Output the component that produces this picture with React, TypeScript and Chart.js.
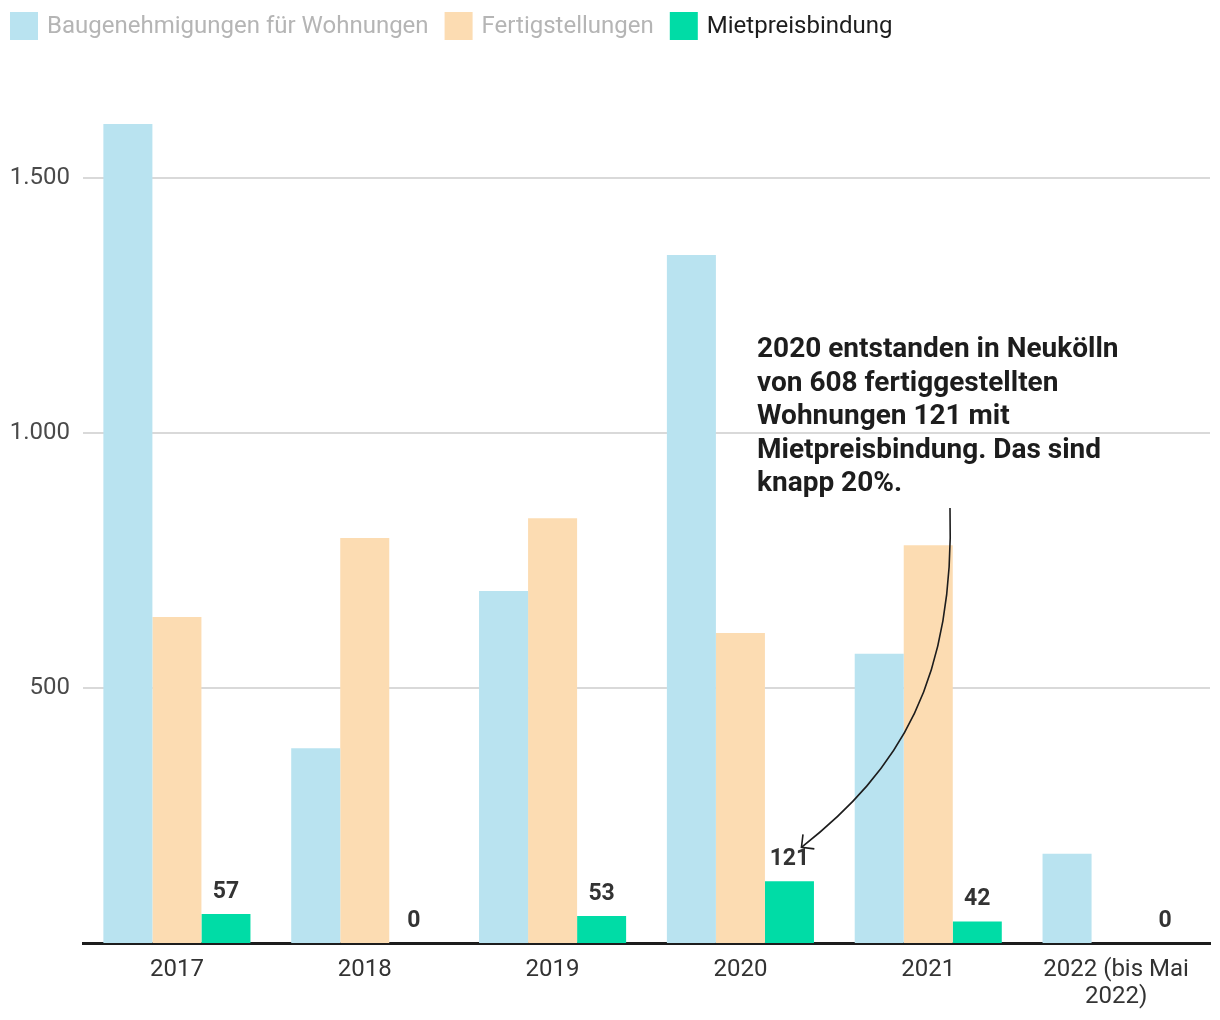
import React, { useEffect, useRef } from "react";
import { Chart, registerables } from "chart.js";

Chart.register(...registerables);

const categories: (string | string[])[] = ["2017", "2018", "2019", "2020", "2021", ["2022 (bis Mai", "2022)"]];
const baugenehmigungen = [1606, 382, 690, 1349, 567, 175];
const fertigstellungen: (number | null)[] = [639, 794, 833, 608, 780, null];
const mietpreisbindung = [57, 0, 53, 121, 42, 0];
const seriesNames = ["Baugenehmigungen für Wohnungen", "Fertigstellungen", "Mietpreisbindung"];
const seriesColors = ["#b9e3f0", "#fcdcb2", "#00dca6"];
const legendTextColors = ["#b5b5b5", "#b5b5b5", "#1d1d1d"];
const yTicks = [500, 1000, 1500];
const yMax = 1700;
const annotationLines = [
  "2020 entstanden in Neukölln",
  "von 608 fertiggestellten",
  "Wohnungen 121 mit",
  "Mietpreisbindung. Das sind",
  "knapp 20%.",
];
const annotatedIndex = 3;

const FONT = "Roboto, 'Noto Sans', sans-serif";

function fmt(v: number): string {
  const s = String(Math.round(v));
  return s.replace(/\B(?=(\d{3})+(?!\d))/g, ".");
}

const legendPlugin = {
  id: "customLegend",
  afterDraw(chart: any) {
    const ctx = chart.ctx;
    ctx.save();
    ctx.font = `24px ${FONT}`;
    ctx.textBaseline = "middle";
    ctx.textAlign = "left";
    let x = 10;
    const y = 12;
    seriesNames.forEach((name, i) => {
      ctx.fillStyle = seriesColors[i];
      ctx.fillRect(x, y, 28, 28);
      ctx.fillStyle = legendTextColors[i];
      ctx.fillText(name, x + 37, y + 15);
      x += 37 + ctx.measureText(name).width + 16;
    });
    ctx.restore();
  },
};

const valueLabelPlugin = {
  id: "valueLabels",
  afterDatasetsDraw(chart: any) {
    const ctx = chart.ctx;
    const meta = chart.getDatasetMeta(2);
    ctx.save();
    ctx.font = `bold 23px ${FONT}`;
    ctx.fillStyle = "#333333";
    ctx.textAlign = "center";
    ctx.textBaseline = "middle";
    meta.data.forEach((el: any, i: number) => {
      const v = mietpreisbindung[i];
      if (v === null || v === undefined) return;
      ctx.fillText(fmt(v), el.x, el.y - 22);
    });
    ctx.restore();
  },
};

const annotationPlugin = {
  id: "annotation",
  afterDraw(chart: any) {
    const ctx = chart.ctx;
    ctx.save();
    ctx.font = `bold 28px ${FONT}`;
    ctx.fillStyle = "#1d1d1d";
    ctx.textAlign = "left";
    ctx.textBaseline = "middle";
    annotationLines.forEach((line, i) => {
      ctx.fillText(line, 757, 350 + i * 33.6);
    });
    const el = chart.getDatasetMeta(2).data[annotatedIndex];
    const tx = el.x + 12;
    const ty = el.y - 34;
    const sx = 950;
    const sy = 508;
    ctx.strokeStyle = "#1d1d1d";
    ctx.lineWidth = 1.6;
    ctx.beginPath();
    ctx.moveTo(sx, sy);
    ctx.bezierCurveTo(955, 680, 900, 770, tx, ty);
    ctx.stroke();
    const ang = Math.atan2(ty - 770, tx - 900);
    const len = 13;
    ctx.beginPath();
    ctx.moveTo(tx - len * Math.cos(ang - Math.PI / 4), ty - len * Math.sin(ang - Math.PI / 4));
    ctx.lineTo(tx, ty);
    ctx.lineTo(tx - len * Math.cos(ang + Math.PI / 4), ty - len * Math.sin(ang + Math.PI / 4));
    ctx.stroke();
    ctx.restore();
  },
};

export default function App() {
  const canvasRef = useRef<HTMLCanvasElement | null>(null);

  useEffect(() => {
    document.body.style.margin = "0";
    const canvas = canvasRef.current;
    if (!canvas) return;
    const chart = new Chart(canvas, {
      type: "bar",
      data: {
        labels: categories,
        datasets: [
          { label: seriesNames[0], data: baugenehmigungen, backgroundColor: seriesColors[0] },
          { label: seriesNames[1], data: fertigstellungen, backgroundColor: seriesColors[1] },
          { label: seriesNames[2], data: mietpreisbindung, backgroundColor: seriesColors[2] },
        ],
      },
      options: {
        responsive: false,
        animation: false,
        devicePixelRatio: 1,
        layout: { padding: { top: 76, right: 10, left: 0, bottom: 0 } },
        datasets: {
          bar: { categoryPercentage: 0.783, barPercentage: 1, borderWidth: 0 },
        },
        plugins: {
          legend: { display: false },
          tooltip: { enabled: false },
          title: { display: false },
        },
        scales: {
          x: {
            z: 1,
            grid: { display: false, drawTicks: false },
            border: { display: true, color: "#1d1d1d", width: 3 },
            ticks: {
              color: "#333333",
              font: { family: FONT, size: 24, lineHeight: 1.125 },
              padding: 13,
              maxRotation: 0,
              autoSkip: false,
            },
            afterFit(scale: any) {
              scale.height = 77;
            },
          },
          y: {
            z: 1,
            min: 0,
            max: yMax,
            afterBuildTicks(scale: any) {
              scale.ticks = yTicks.map((v) => ({ value: v }));
            },
            afterFit(scale: any) {
              scale.width = 83;
            },
            grid: { color: "rgba(0,0,0,0.15)", lineWidth: 2, drawTicks: false },
            border: { display: false },
            ticks: {
              color: "#4a4a4a",
              font: { family: FONT, size: 24 },
              padding: 13,
              callback: (v: any) => fmt(Number(v)),
            },
          },
        },
      },
      plugins: [legendPlugin, valueLabelPlugin, annotationPlugin],
    } as any);
    return () => chart.destroy();
  }, []);

  return (
    <div style={{ width: 1220, height: 1020, position: "relative" }}>
      <canvas ref={canvasRef} width={1220} height={1020} style={{ display: "block" }} />
    </div>
  );
}
